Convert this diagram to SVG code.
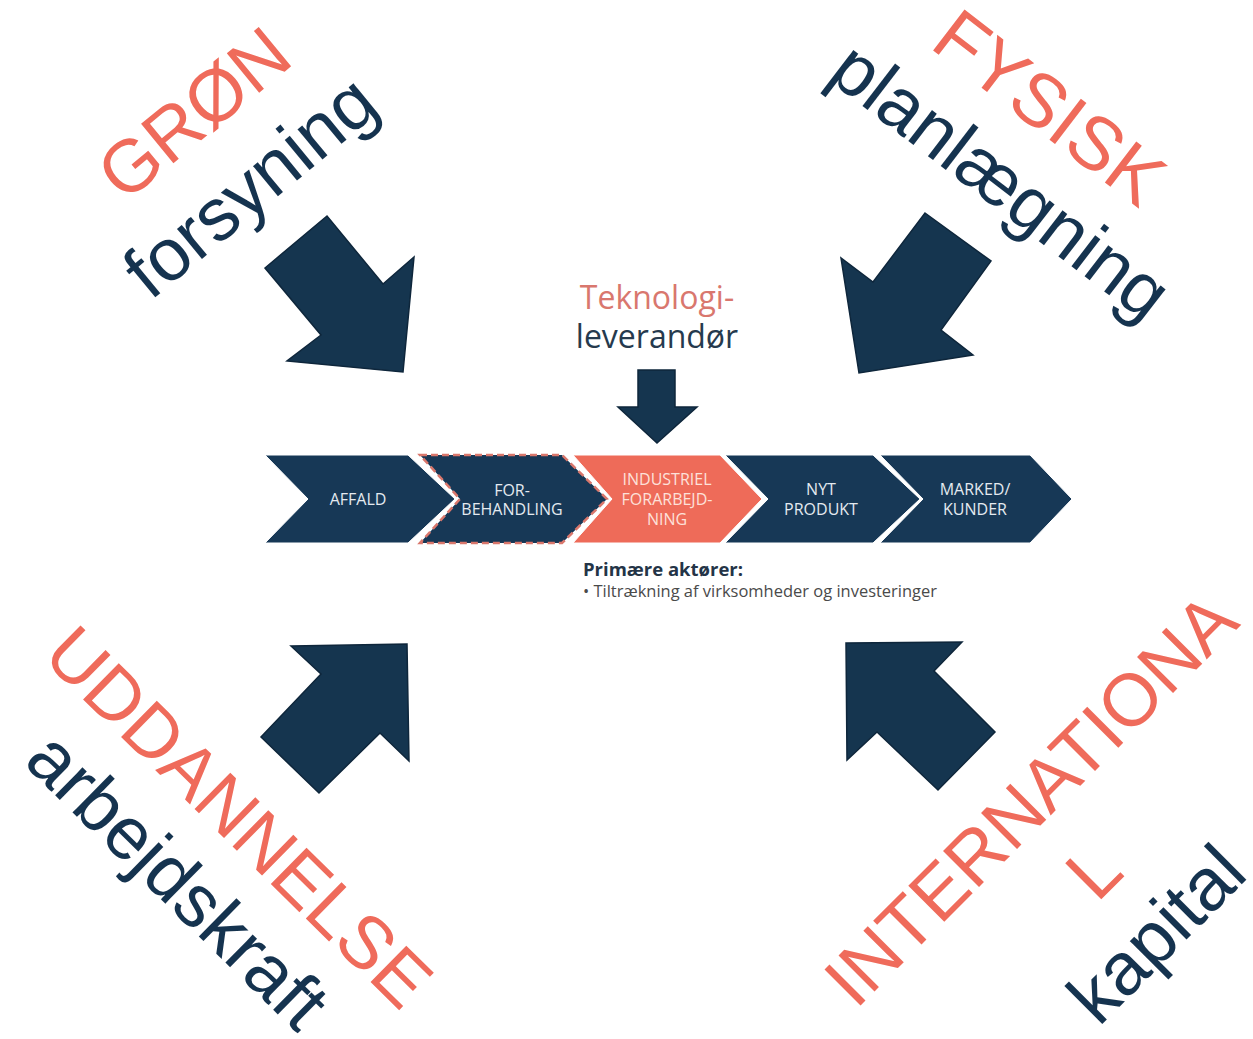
<svg xmlns="http://www.w3.org/2000/svg" width="1253" height="1039" viewBox="0 0 1253 1039">
<style>
.big{font-family:"Liberation Sans",Arial,sans-serif;text-anchor:middle}
.sal{fill:#ef6b5b}
.nav{fill:#15334f}
.arr{fill:#15354f;stroke:#0e263b;stroke-width:1.5;stroke-linejoin:miter}
.chev{fill:#173856;stroke:#ffffff;stroke-width:1}
.ct{font-family:"Open Sans","DejaVu Sans",sans-serif;font-size:16px;fill:#e4eaf0;text-anchor:middle}
</style>
<rect width="1253" height="1039" fill="#ffffff"/>

<g id="label-gron" transform="translate(210,133) rotate(-39.5)">
<text class="big sal" x="0" y="0" font-size="74">GRØN</text>
<text class="big nav" x="-3" y="92" font-size="74">forsyning</text>
</g>

<g id="label-fysisk" transform="translate(1034,128) rotate(37.5)">
<text class="big sal" x="0" y="0" font-size="75">FYSISK</text>
<text class="big nav" x="6" y="87" font-size="74">planlægning</text>
</g>

<g id="label-uddannelse" transform="translate(221,835) rotate(44.5)">
<text class="big sal" x="0" y="0" font-size="74">UDDANNELSE</text>
<text class="big nav" x="1" y="88" font-size="74">arbejdskraft</text>
</g>

<g id="label-international" transform="translate(1048.5,817.5) rotate(-45)">
<text class="big sal" x="0" y="0" font-size="74">INTERNATIONA</text>
<text class="big sal" x="-6" y="95" font-size="74">L</text>
<text class="big nav" x="-6" y="184" font-size="74">kapital</text>
</g>

<g id="teknologi">
<text x="657" y="309" font-family="'Open Sans','DejaVu Sans',sans-serif" font-size="32" fill="#d9776e" text-anchor="middle">Teknologi-</text>
<text x="657" y="348" font-family="'Open Sans','DejaVu Sans',sans-serif" font-size="32" fill="#263a4e" text-anchor="middle">leverandør</text>
</g>

<g id="connectors">
<polygon class="arr" points="327,216 265,268 321,335 287,361 403,372 414,257 383,284"/>
<polygon class="arr" points="925,213 991,261 941,330 973,355 859,373 841,258 873,282"/>
<polygon class="arr" points="291,646 407,644 409,761 380,733 319,793 261,737 321,674"/>
<polygon class="arr" points="846,643 962,642 934,671 995,732 938,790 877,732 847,760"/>
<polygon class="arr" points="638,370 675,370 675,407 697,407 657,443 618,407 638,407"/>
</g>

<g id="affald">
<polygon class="chev" points="265,455 408,455 455,499 408,543 265,543 308,499"/>
<text class="ct" x="358" y="505">AFFALD</text>
</g>
<g id="forbehandling">
<polygon class="chev" points="420,455 562,455 607,499 562,543 420,543 460,499" style="stroke:#d9776c;stroke-width:2.5;stroke-dasharray:7 4"/>
<text class="ct" x="512" y="496">FOR-</text>
<text class="ct" x="512" y="515">BEHANDLING</text>
</g>
<g id="industriel">
<polygon class="chev" points="573,455 720,455 762,499 720,543 573,543 612,499" style="fill:#ee6b59"/>
<text class="ct" x="667" y="485" style="fill:#fde1d9">INDUSTRIEL</text>
<text class="ct" x="667" y="505" style="fill:#fde1d9">FORARBEJD-</text>
<text class="ct" x="667" y="525" style="fill:#fde1d9">NING</text>
</g>
<g id="nytprodukt">
<polygon class="chev" points="725,455 873,455 920,499 873,543 725,543 768,499"/>
<text class="ct" x="821" y="495">NYT</text>
<text class="ct" x="821" y="515">PRODUKT</text>
</g>
<g id="marked">
<polygon class="chev" points="880,455 1030,455 1072,499 1030,543 880,543 923,499"/>
<text class="ct" x="975" y="495">MARKED/</text>
<text class="ct" x="975" y="515">KUNDER</text>
</g>

<g id="aktorer">
<text x="583" y="576" font-family="'Open Sans','DejaVu Sans',sans-serif" font-size="17" font-weight="bold" fill="#243447" textLength="160" lengthAdjust="spacingAndGlyphs">Primære aktører:</text>
<text x="583" y="597" font-family="'Open Sans','DejaVu Sans',sans-serif" font-size="15.5" fill="#4a4a4a" textLength="354" lengthAdjust="spacingAndGlyphs">• Tiltrækning af virksomheder og investeringer</text>
</g>
</svg>
